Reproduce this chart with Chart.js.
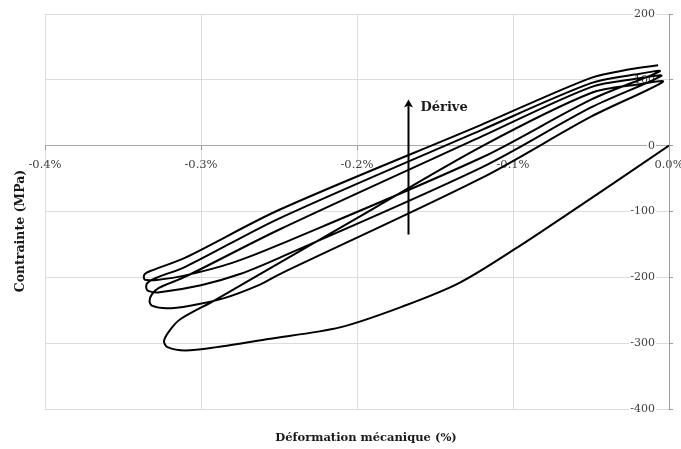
<!DOCTYPE html>
<html>
<head>
<meta charset="utf-8">
<script src="https://cdn.jsdelivr.net/npm/chart.js@4.4.1/dist/chart.umd.min.js"></script>
<style>
  html, body { margin: 0; padding: 0; background: #fff; }
</style>
</head>
<body>
<canvas id="hysteresisChart" width="681" height="449"></canvas>
<script>
// strain in %, stress in MPa
const firstLoadStrain = [0, -0.07, -0.0974, -0.134, -0.1705, -0.211, -0.258, -0.29, -0.31, -0.3215, -0.3237];
const firstLoadStress = [0, -112, -155, -208, -244, -276, -294, -306, -311, -306, -297];

const unload1Strain = [-0.3205, -0.3135, -0.2921, -0.2622, -0.2, -0.12, -0.05, -0.02, -0.004];
const unload1Stress = [-282, -264, -236, -195, -110, -1, 80, 93, 97];

const reload1Strain = [-0.05, -0.12, -0.2494, -0.2622, -0.2857, -0.307, -0.322, -0.3315, -0.333];
const reload1Stress = [44, -49, -195, -211, -232, -243, -247, -243, -236];

const unload2Strain = [-0.3315, -0.327, -0.31, -0.2494, -0.12, -0.05, -0.02, -0.005];
const unload2Stress = [-226, -216, -199, -127, 14, 89, 102, 106];

const reload2Strain = [-0.05, -0.12, -0.2494, -0.275, -0.3, -0.3276, -0.3335, -0.335];
const reload2Stress = [58, -33, -170, -195, -212, -223, -221, -217];

const unload3Strain = [-0.3345, -0.329, -0.31, -0.2494, -0.12, -0.05, -0.022, -0.006];
const unload3Stress = [-209, -201, -184, -110, 24, 95, 108, 113];

const reload3Strain = [-0.05, -0.12, -0.2494, -0.28, -0.31, -0.3284, -0.335, -0.3365];
const reload3Stress = [70, -18, -150, -178, -197, -204, -204, -202];

const unload4Strain = [-0.336, -0.331, -0.31, -0.2494, -0.12, -0.05, -0.025, -0.007];
const unload4Stress = [-195, -189, -170, -97, 32, 103, 116, 122];

// "Dérive" arrow (strain %, stress range MPa)
const driftStrain = -0.1675;
const driftFrom = -135;
const driftTo = 70;

const branches = [
  [firstLoadStrain, firstLoadStress],
  [unload1Strain, unload1Stress],
  [reload1Strain, reload1Stress],
  [unload2Strain, unload2Stress],
  [reload2Strain, reload2Stress],
  [unload3Strain, unload3Stress],
  [reload3Strain, reload3Stress],
  [unload4Strain, unload4Stress]
];

const points = branches.flatMap(([xs, ys]) => xs.map((x, i) => ({ x: x, y: ys[i] })));

const serif = '"DejaVu Serif", "Liberation Serif", serif';

const extrasPlugin = {
  id: 'extras',
  afterDraw(chart) {
    const { ctx, scales: { x, y } } = chart;
    const ax = Math.round(x.getPixelForValue(driftStrain)) + 0.5;
    const yBottom = y.getPixelForValue(driftFrom);
    const yTop = y.getPixelForValue(driftTo);

    ctx.save();
    ctx.strokeStyle = '#000';
    ctx.fillStyle = '#000';
    ctx.lineWidth = 2;
    ctx.beginPath();
    ctx.moveTo(ax, yBottom);
    ctx.lineTo(ax, yTop + 5);
    ctx.stroke();

    ctx.beginPath();
    ctx.moveTo(ax, yTop);
    ctx.lineTo(ax - 4.5, yTop + 8);
    ctx.lineTo(ax, yTop + 6);
    ctx.lineTo(ax + 4.5, yTop + 8);
    ctx.closePath();
    ctx.fill();

    ctx.font = 'bold 13px ' + serif;
    ctx.textAlign = 'left';
    ctx.textBaseline = 'alphabetic';
    ctx.fillStyle = '#1a1a1a';
    ctx.fillText('Dérive', ax + 12, yTop + 11.5);

    // axis titles
    ctx.font = 'bold 11.5px ' + serif;
    ctx.textAlign = 'center';
    ctx.textBaseline = 'middle';
    ctx.fillText('Déformation mécanique (%)', 366, 438);

    ctx.translate(21, 231);
    ctx.rotate(-Math.PI / 2);
    ctx.font = 'bold 12.5px ' + serif;
    ctx.fillText('Contrainte (MPa)', 0, 0);
    ctx.restore();
  }
};

new Chart(document.getElementById('hysteresisChart'), {
  type: 'scatter',
  data: {
    datasets: [{
      data: points,
      showLine: true,
      borderColor: '#000',
      borderWidth: 2,
      pointRadius: 0,
      tension: 0.3,
      fill: false
    }]
  },
  options: {
    responsive: false,
    animation: false,
    devicePixelRatio: 1,
    layout: {
      padding: { left: 45, top: 14, right: 8, bottom: 40 }
    },
    plugins: {
      legend: { display: false },
      tooltip: { enabled: false }
    },
    scales: {
      x: {
        type: 'linear',
        min: -0.4,
        max: 0,
        position: { y: 0 },
        afterFit: (scale) => {
          scale.height = 0;
          scale.paddingLeft = 0;
          scale.paddingRight = 0;
        },
        ticks: {
          stepSize: 0.1,
          padding: 8,
          color: '#404040',
          font: { family: serif, size: 11.5 },
          callback: (value) => value.toFixed(1) + '%'
        },
        grid: { color: '#dcdcdc', tickColor: '#9a9a9a', tickLength: 4 },
        border: { color: '#a8a8a8' }
      },
      y: {
        type: 'linear',
        min: -400,
        max: 200,
        position: 'right',
        afterFit: (scale) => {
          scale.width = 4;
          scale.paddingTop = 0;
          scale.paddingBottom = 0;
        },
        ticks: {
          stepSize: 100,
          mirror: true,
          padding: -14,
          color: '#404040',
          font: { family: serif, size: 11 },
          showLabelBackdrop: true,
          backdropColor: '#fff',
          backdropPadding: 1
        },
        grid: { color: '#dcdcdc', tickColor: '#9a9a9a', tickLength: 4 },
        border: { color: '#9a9a9a' }
      }
    }
  },
  plugins: [extrasPlugin]
});
</script>
</body>
</html>
